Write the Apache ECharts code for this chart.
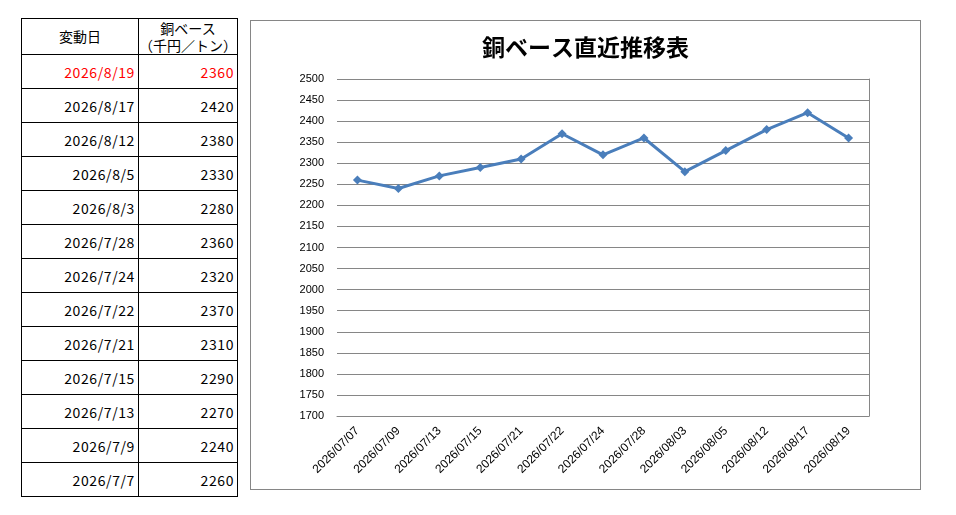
<!DOCTYPE html>
<html>
<head>
<meta charset="utf-8">
<script src="https://cdn.jsdelivr.net/npm/echarts@6/dist/echarts.min.js"></script>
<style>
    body { margin: 0; background: #fff; }
    #tbl {
        position: absolute; left: 21px; top: 18px;
        border-collapse: collapse;
        font-family: "Noto Sans CJK JP", sans-serif;
        font-size: 14px;
        color: #000;
    }
    #tbl td {
        border: 1px solid #000;
        padding: 0 3px 0 0;
        text-align: right;
        height: 33px;
        line-height: 16px;
        white-space: nowrap;
        letter-spacing: 0.6px;
    }
    #tbl td.c1 { width: 113px; }
    #tbl td.c2 { width: 94px; }
    #tbl tr.head td { text-align: center; height: 35px; padding: 0; line-height: 17px; letter-spacing: 0; }
    #tbl tr.latest td { color: #ff0000; }
    #chartbox {
        position: absolute; left: 250px; top: 20px;
        width: 669px; height: 468px;
        border: 1px solid #868686;
    }
    #summarychart { width: 669px; height: 468px; }
</style>
</head>
<body>
<table id="tbl"></table>
<div id="chartbox"><div id="summarychart"></div></div>
<script>
// 変動日 (古い順) と銅ベース価格 (千円/トン)
var dates = ['2026/07/07', '2026/07/09', '2026/07/13', '2026/07/15', '2026/07/21', '2026/07/22', '2026/07/24',
             '2026/07/28', '2026/08/03', '2026/08/05', '2026/08/12', '2026/08/17', '2026/08/19'];
var prices = [2260, 2240, 2270, 2290, 2310, 2370, 2320, 2360, 2280, 2330, 2380, 2420, 2360];
var yMin = 1700, yMax = 2500, yStep = 50;

// 左の表 (新しい順)
var html = '<tr class="head"><td class="c1">変動日</td><td class="c2">銅ベース<br>（千円／トン）</td></tr>';
for (var i = dates.length - 1; i >= 0; i--) {
    var p = dates[i].split('/');
    var label = p[0] + '/' + parseInt(p[1], 10) + '/' + parseInt(p[2], 10);
    html += '<tr' + (i == dates.length - 1 ? ' class="latest"' : '') + '><td class="c1">' + label +
            '</td><td class="c2">' + prices[i] + '</td></tr>';
}
document.getElementById('tbl').innerHTML = html;

var chart = echarts.init(document.getElementById('summarychart'));
var gridColor = '#868686';
var option = {
    animation: false,
    title: {
        text: '銅ベース直近推移表',
        left: 'center',
        top: 10,
        textStyle: { fontFamily: 'Noto Sans CJK JP', fontSize: 23, fontWeight: 'bold', color: '#000' }
    },
    grid: { left: 86, right: 51, top: 58, bottom: 73 },
    xAxis: {
        type: 'category',
        data: dates,
        axisLine: { show: true, lineStyle: { color: gridColor } },
        axisTick: { show: false },
        axisLabel: {
            interval: 0, rotate: 45, margin: 13,
            color: '#000', fontFamily: 'Liberation Sans', fontSize: 12
        }
    },
    yAxis: [
        {
            type: 'value', min: yMin, max: yMax, interval: yStep,
            axisLine: { show: false },
            axisTick: { show: false },
            axisLabel: {
                margin: 13, color: '#000', fontFamily: 'Liberation Sans', fontSize: 11,
                formatter: function (v) { return String(v); }
            },
            splitLine: { lineStyle: { color: gridColor, width: 1 } }
        },
        {
            type: 'value', min: yMin, max: yMax, interval: yStep, position: 'right',
            axisLine: { show: true, lineStyle: { color: gridColor } },
            axisTick: { show: false },
            axisLabel: { show: false },
            splitLine: { show: false }
        }
    ],
    series: [
        {
            name: '銅ベース',
            type: 'line',
            data: prices,
            symbol: 'diamond',
            symbolSize: 9,
            lineStyle: { color: '#4a7ebb', width: 3 },
            itemStyle: { color: '#4a7ebb' }
        }
    ]
};
chart.setOption(option);
</script>
</body>
</html>
